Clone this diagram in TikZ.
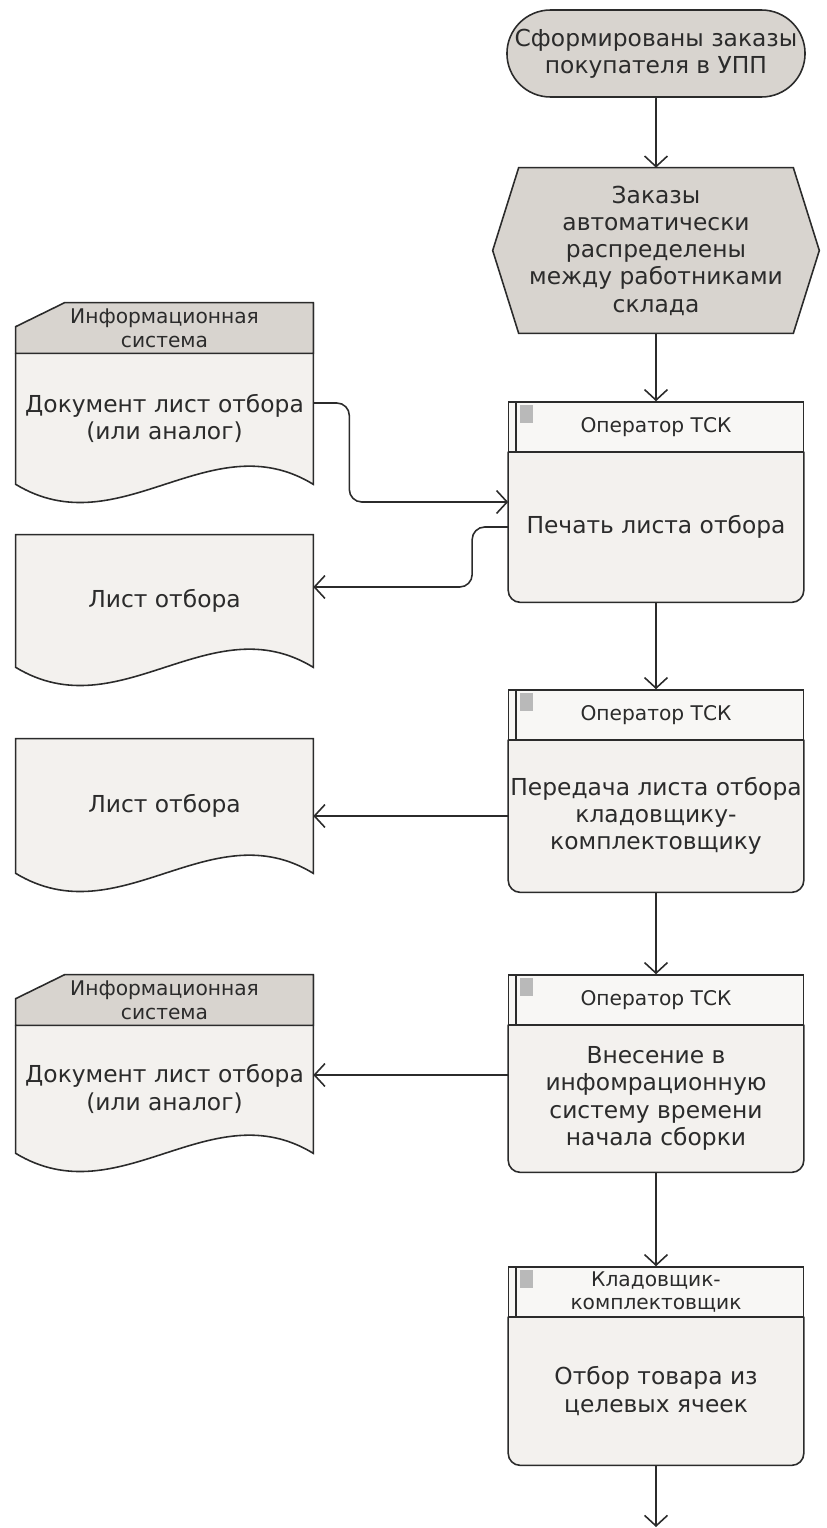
\documentclass[tikz,border=0pt]{standalone}
\usepackage{fontspec}
\setmainfont{DejaVu Sans}
\usepackage{xcolor}
\definecolor{shade}{HTML}{D8D4CF}
\definecolor{paper}{HTML}{F3F1EE}
\definecolor{caption}{HTML}{F8F7F5}
\definecolor{ink}{HTML}{2B2B2B}
\usepackage{tikz}
\usetikzlibrary{arrows.meta, shapes.misc, backgrounds}

\begin{document}
\begin{tikzpicture}[
  x=0.02cm, y=-0.02cm,
  font=\fontsize{13.3}{15.5}\selectfont,
  every node/.style={text=ink, align=center, inner sep=0pt},
  startbox/.style={rounded rectangle, draw=ink, fill=shade, line width=0.9pt,
    minimum width=5.96cm, minimum height=1.74cm},
  headbar/.style={draw=ink, fill=caption, line width=0.9pt,
    minimum width=5.9cm, minimum height=1cm, font=\fontsize{11.5}{13.5}\selectfont},
  procbody/.style={minimum width=5.9cm, minimum height=#1},
  docbody/.style={minimum width=5.94cm, minimum height=#1},
  sysbar/.style={minimum width=5.94cm, minimum height=1cm, font=\fontsize{11.5}{13.5}\selectfont},
  shapeline/.style={draw=ink, line width=0.9pt},
  flow/.style={-{Straight Barb[length=6pt,width=13pt]}, draw=ink, line width=0.9pt,
    rounded corners=0.25cm},
  >=Stealth
]
  \useasboundingbox (0,0) rectangle (827,1528);

  \node[startbox] (start) at (656,53.5) {Сформированы заказы\\покупателя в УПП};
  \node[minimum width=6.52cm, minimum height=3.3cm] (hexa) at (656,250.5)
    {Заказы\\автоматически\\распределены\\между работниками\\склада};

  \node[headbar] (h1) at (656,427) {Оператор ТСК};
  \node[procbody=3cm] (p1) at (656,527) {Печать листа отбора};
  \node[headbar] (h2) at (656,715) {Оператор ТСК};
  \node[procbody=3.04cm] (p2) at (656,816) {Передача листа отбора\\кладовщику-\\комплектовщику};
  \node[headbar] (h3) at (656,1000) {Оператор ТСК};
  \node[procbody=2.94cm] (p3) at (656,1098.5) {Внесение в\\инфомрационную\\систему времени\\начала сборки};
  \node[headbar] (h4) at (656,1292) {Кладовщик-\\комплектовщик};
  \node[procbody=2.96cm] (p4) at (656,1391) {Отбор товара из\\целевых ячеек};
  \coordinate (fin) at (656,1527);

  \node[sysbar] (s1) at (164.5,328) {Информационная\\система};
  \node[docbody=2.62cm] (i1) at (164.5,418.5) {Документ лист отбора\\(или аналог)};
  \node[docbody=2.64cm] (l1) at (164.5,601) {Лист отбора};
  \node[docbody=2.68cm] (l2) at (164.5,806) {Лист отбора};
  \node[sysbar] (s2) at (164.5,1000) {Информационная\\система};
  \node[docbody=2.56cm] (i2) at (164.5,1089) {Документ лист отбора\\(или аналог)};

  \begin{scope}[on background layer]
    \draw[shapeline, fill=shade] (hexa.west) -- ([xshift=0.52cm]hexa.north west)
      -- ([xshift=-0.52cm]hexa.north east) -- (hexa.east)
      -- ([xshift=-0.52cm]hexa.south east) -- ([xshift=0.52cm]hexa.south west) -- cycle;
    \foreach \p in {p1,p2,p3,p4}
      \draw[shapeline, fill=paper] (\p.north west) -- ([yshift=0.24cm]\p.south west)
        arc[start angle=180, end angle=270, radius=0.24cm]
        -- ([xshift=-0.24cm]\p.south east)
        arc[start angle=270, end angle=360, radius=0.24cm] -- (\p.north east);
    \foreach \d in {l1,l2}
      \draw[shapeline, fill=paper] (\d.north west) -- (\d.north east) -- (\d.south east)
        .. controls ([xshift=-2.06cm,yshift=1.26cm]\d.south east)
        and ([xshift=2.08cm,yshift=-1.26cm]\d.south west) .. (\d.south west) -- cycle;
    \foreach \s/\d in {s1/i1,s2/i2} {
      \draw[shapeline, fill=paper] (\s.north east) -- (\d.south east)
        .. controls ([xshift=-2.06cm,yshift=1.26cm]\d.south east)
        and ([xshift=2.08cm,yshift=-1.26cm]\d.south west) .. (\d.south west)
        -- (\s.south west);
      \draw[shapeline, fill=shade] ([yshift=-0.48cm]\s.north west)
        -- ([xshift=0.98cm]\s.north west) -- (\s.north east)
        -- (\s.south east) -- (\s.south west) -- cycle;
    }
  \end{scope}

  \foreach \h in {h1,h2,h3,h4} {
    \draw[shapeline] ([xshift=0.17cm]\h.north west) -- ([xshift=0.17cm]\h.south west);
    \fill[gray!55] ([xshift=0.24cm,yshift=-0.08cm]\h.north west) rectangle ++(0.26cm,-0.36cm);
  }

  \draw[flow] (start) -- (hexa);
  \draw[flow] (hexa) -- (h1);
  \draw[flow] ([yshift=0.31cm]i1.east) -- ++(36,0) |- ([yshift=0.5cm]p1.west);
  \draw[flow] (p1.west) -- ++(-36,0) |- ([yshift=0.28cm]l1.east);
  \draw[flow] (p1) -- (h2);
  \draw[flow] (p2.west) -- (p2.west -| l2.east);
  \draw[flow] (p2) -- (h3);
  \draw[flow] ([yshift=0.47cm]p3.west) -- ([yshift=0.47cm]p3.west -| i2.east);
  \draw[flow] (p3) -- (h4);
  \draw[flow] (p4) -- (fin);
\end{tikzpicture}
\end{document}
